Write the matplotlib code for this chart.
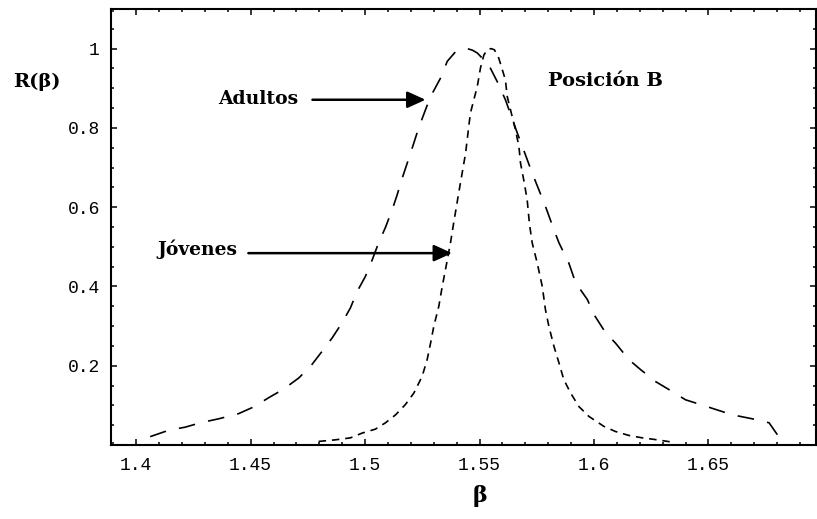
# -*- coding:utf-8 -*-
import matplotlib
matplotlib.use('Agg')
import matplotlib.pyplot as plt
from matplotlib.ticker import FixedLocator, FixedFormatter, MultipleLocator

# curva R(beta) de adultos, posicion B
adultos_beta = [1.4061, 1.4141, 1.4214, 1.4287, 1.4360, 1.4447, 1.4513, 1.4578,
                1.4644, 1.4710, 1.4761, 1.4809, 1.4856, 1.4899, 1.4936, 1.4965,
                1.5001, 1.5031, 1.5059, 1.5089, 1.5118, 1.5140, 1.5162, 1.5184,
                1.5213, 1.5234, 1.5264, 1.5286, 1.5329, 1.5359, 1.5395, 1.5424,
                1.5446, 1.5469, 1.5490, 1.5540, 1.5562, 1.5577, 1.5613, 1.5665,
                1.5687, 1.5730, 1.5788, 1.5825, 1.5847, 1.5890, 1.5920, 1.5971,
                1.6000, 1.6051, 1.6094, 1.6153, 1.6204, 1.6269, 1.6327, 1.6400,
                1.6466, 1.6546, 1.6605, 1.6692, 1.6765, 1.6801, 1.6823]
adultos_r = [0.021, 0.037, 0.045, 0.057, 0.066, 0.079, 0.096, 0.119,
             0.141, 0.169, 0.198, 0.234, 0.270, 0.308, 0.346, 0.387,
             0.425, 0.467, 0.510, 0.549, 0.593, 0.631, 0.673, 0.711,
             0.762, 0.800, 0.846, 0.879, 0.925, 0.968, 0.992, 0.999,
             1.000, 0.996, 0.989, 0.959, 0.934, 0.917, 0.871, 0.787,
             0.753, 0.686, 0.602, 0.543, 0.510, 0.459, 0.409, 0.367,
             0.329, 0.283, 0.257, 0.215, 0.190, 0.160, 0.140, 0.114,
             0.102, 0.087, 0.076, 0.066, 0.056, 0.026, 0.003]

# curva R(beta) de jovenes, posicion B
jovenes_beta = [1.4797, 1.4870, 1.4936, 1.4987, 1.5045, 1.5089, 1.5133, 1.5176,
                1.5213, 1.5249, 1.5271, 1.5286, 1.5300, 1.5322, 1.5337, 1.5351,
                1.5373, 1.5387, 1.5409, 1.5424, 1.5439, 1.5453, 1.5460, 1.5475,
                1.5490, 1.5504, 1.5519, 1.5535, 1.5551, 1.5565, 1.5584, 1.5613,
                1.5621, 1.5635, 1.5657, 1.5672, 1.5679, 1.5693, 1.5708, 1.5718,
                1.5730, 1.5752, 1.5774, 1.5788, 1.5803, 1.5825, 1.5847, 1.5868,
                1.5898, 1.5934, 1.5978, 1.6043, 1.6094, 1.6153, 1.6211, 1.6277,
                1.6344]
jovenes_r = [0.009, 0.013, 0.018, 0.030, 0.040, 0.056, 0.076, 0.102,
             0.131, 0.173, 0.215, 0.257, 0.299, 0.350, 0.400, 0.442,
             0.510, 0.560, 0.636, 0.686, 0.736, 0.804, 0.837, 0.871,
             0.904, 0.951, 0.984, 0.998, 1.000, 0.997, 0.976, 0.921,
             0.879, 0.846, 0.795, 0.753, 0.711, 0.669, 0.619, 0.558,
             0.510, 0.459, 0.400, 0.341, 0.299, 0.249, 0.207, 0.165,
             0.131, 0.097, 0.072, 0.047, 0.034, 0.024, 0.018, 0.013,
             0.007]

x_ticks = [1.4, 1.45, 1.5, 1.55, 1.6, 1.65]
x_labels = ['1.4', '1.45', '1.5', '1.55', '1.6', '1.65']
y_ticks = [0.2, 0.4, 0.6, 0.8, 1.0]
y_labels = ['0.2', '0.4', '0.6', '0.8', '1']

serif = ['DejaVu Serif']
mono = ['Liberation Mono', 'DejaVu Sans Mono']


def main():
	fig = plt.figure(figsize=(8.17, 5.19), dpi=100)
	ax = fig.add_axes([0.1359, 0.1426, 0.8629, 0.8401])

	ax.plot(adultos_beta, adultos_r, color='black', lw=1.2, dashes=(10, 8))
	ax.plot(jovenes_beta, jovenes_r, color='black', lw=1.2, dashes=(4.5, 3.5))

	ax.set_xlim(1.389, 1.697)
	ax.set_ylim(0, 1.1)

	ax.xaxis.set_major_locator(FixedLocator(x_ticks))
	ax.xaxis.set_major_formatter(FixedFormatter(x_labels))
	ax.xaxis.set_minor_locator(MultipleLocator(0.01))
	ax.yaxis.set_major_locator(FixedLocator(y_ticks))
	ax.yaxis.set_major_formatter(FixedFormatter(y_labels))
	ax.yaxis.set_minor_locator(MultipleLocator(0.05))

	ax.tick_params(which='both', direction='in', top=True, right=True, width=1.1)
	ax.tick_params(which='major', length=4)
	ax.tick_params(which='minor', length=2.4)
	ax.tick_params(axis='x', which='major', pad=9)
	ax.tick_params(axis='y', which='major', pad=8)
	for lab in ax.get_xticklabels() + ax.get_yticklabels():
		lab.set_family(mono)
		lab.set_fontsize(13)

	for sp in ax.spines.values():
		sp.set_linewidth(1.5)

	# etiquetas y flechas
	ax.text(1.4359, 0.861, 'Adultos', family=serif, fontweight='bold', fontsize=13.5,
		ha='left', va='baseline')
	ax.text(1.4092, 0.480, 'Jóvenes', family=serif, fontweight='bold', fontsize=13.5,
		ha='left', va='baseline')
	ax.text(1.5801, 0.906, 'Posición B', family=serif, fontweight='bold', fontsize=14,
		ha='left', va='baseline')

	arrow = dict(arrowstyle='-|>,head_length=0.55,head_width=0.25', color='black',
		lw=1.8, shrinkA=0, shrinkB=0, mutation_scale=20)
	ax.annotate('', xy=(1.5264, 0.871), xytext=(1.477, 0.871), arrowprops=arrow)
	ax.annotate('', xy=(1.538, 0.484), xytext=(1.449, 0.484), arrowprops=arrow)

	fig.text(0.0159, 0.8324, 'R(β)', family=serif, fontweight='bold', fontsize=14,
		ha='left', va='baseline')
	fig.text(0.5875, 0.044, 'β', family=serif, fontweight='bold', fontsize=16,
		ha='center', va='center')

	fig.savefig('out.png', dpi=100)


if __name__ == '__main__':
	main()
